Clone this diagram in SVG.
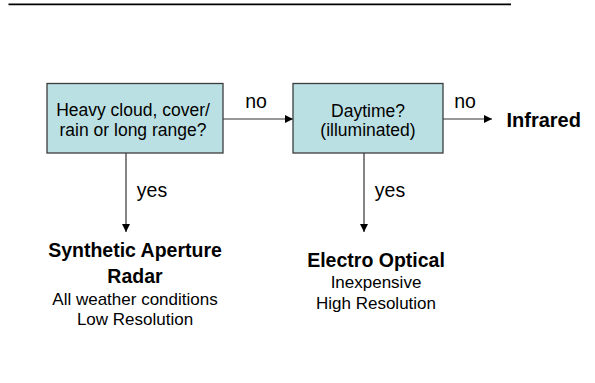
<svg xmlns="http://www.w3.org/2000/svg" width="595" height="383" viewBox="0 0 595 383">
  <defs>
    <marker id="arrow" viewBox="0 0 10 10" refX="10" refY="5" markerWidth="8.5" markerHeight="8.5" markerUnits="userSpaceOnUse" orient="auto">
      <path d="M0,0 L10,5 L0,10 z" fill="#000"/>
    </marker>
    <style>
      .box { fill: #bbe0e3; stroke: #3c3c3c; stroke-width: 1.3; }
      .q { font-family: "Liberation Sans", Arial, sans-serif; font-size: 17.5px; fill: #000; text-anchor: middle; }
      .lbl { font-family: "Liberation Sans", Arial, sans-serif; font-size: 19.5px; fill: #000; text-anchor: middle; }
      .title { font-family: "Liberation Sans", Arial, sans-serif; font-size: 19.5px; font-weight: bold; fill: #000; text-anchor: middle; }
      .sub { font-family: "Liberation Sans", Arial, sans-serif; font-size: 17px; fill: #000; text-anchor: middle; }
      .conn { stroke: #333; stroke-width: 1.2; fill: none; marker-end: url(#arrow); }
    </style>
  </defs>
  <rect width="595" height="383" fill="#fff"/>

  <!-- header rule -->
  <line x1="8.5" y1="4.3" x2="511" y2="4.3" stroke="#000" stroke-width="1.7"/>

  <!-- connectors -->
  <g id="connectors">
    <line class="conn" x1="223" y1="119" x2="293" y2="119"/>
    <line class="conn" x1="443" y1="119" x2="492" y2="119"/>
    <line class="conn" x1="126" y1="153" x2="126" y2="232"/>
    <line class="conn" x1="364" y1="153" x2="364" y2="232"/>
    <text class="lbl" x="256" y="108">no</text>
    <text class="lbl" x="465" y="108">no</text>
    <text class="lbl" x="152" y="197">yes</text>
    <text class="lbl" x="390" y="197">yes</text>
  </g>

  <!-- decision: weather / range -->
  <g id="node-weather">
    <rect class="box" x="47" y="83.5" width="176" height="69.5"/>
    <text class="q" x="133" y="116">Heavy cloud, cover/</text>
    <text class="q" x="133" y="135.5">rain or long range?</text>
  </g>

  <!-- decision: daylight -->
  <g id="node-daytime">
    <rect class="box" x="293" y="83.5" width="150" height="69.5"/>
    <text class="q" x="368" y="116.5">Daytime?</text>
    <text class="q" x="368" y="136">(illuminated)</text>
  </g>

  <!-- outcome: infrared -->
  <g id="node-infrared">
    <text class="title" x="506.5" y="126.5" style="text-anchor:start;font-size:20px">Infrared</text>
  </g>

  <!-- outcome: SAR -->
  <g id="node-sar">
    <text class="title" x="135" y="257">Synthetic Aperture</text>
    <text class="title" x="135" y="282.5">Radar</text>
    <text class="sub" x="135" y="305">All weather conditions</text>
    <text class="sub" x="135" y="325">Low Resolution</text>
  </g>

  <!-- outcome: electro optical -->
  <g id="node-eo">
    <text class="title" x="376" y="266.5">Electro Optical</text>
    <text class="sub" x="376" y="287.5">Inexpensive</text>
    <text class="sub" x="376" y="308.5">High Resolution</text>
  </g>
</svg>
